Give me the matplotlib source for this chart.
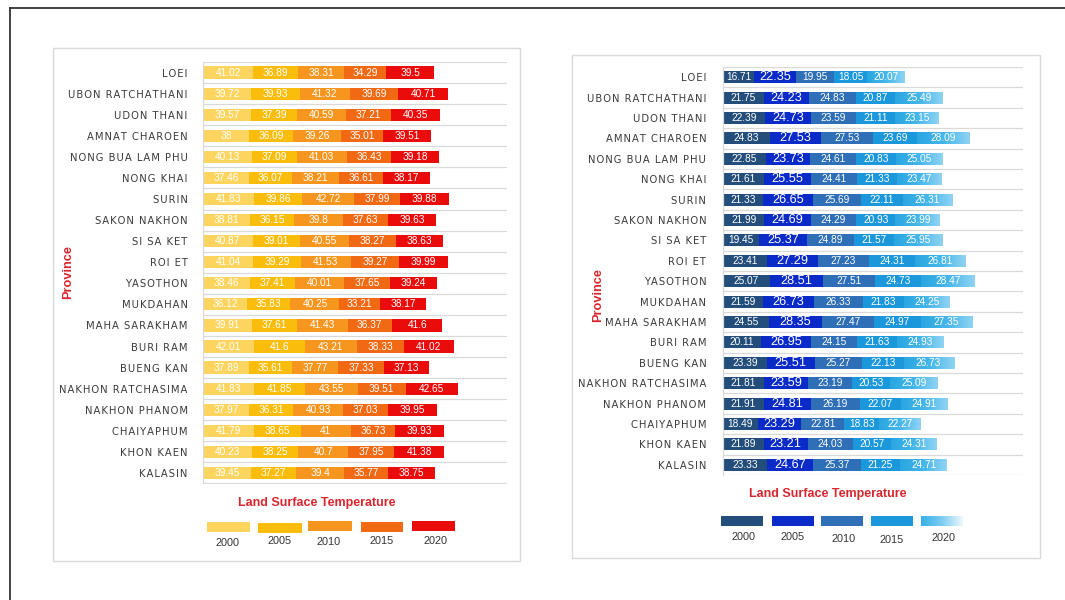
import numpy as np
import matplotlib
matplotlib.use("Agg")
import matplotlib.pyplot as plt
from matplotlib.patches import Rectangle
from matplotlib.lines import Line2D
from matplotlib.colors import LinearSegmentedColormap

# ---------------- data ----------------
provinces = ["LOEI", "UBON RATCHATHANI", "UDON THANI", "AMNAT CHAROEN",
             "NONG BUA LAM PHU", "NONG KHAI", "SURIN", "SAKON NAKHON",
             "SI SA KET", "ROI ET", "YASOTHON", "MUKDAHAN", "MAHA SARAKHAM",
             "BURI RAM", "BUENG KAN", "NAKHON RATCHASIMA", "NAKHON PHANOM",
             "CHAIYAPHUM", "KHON KAEN", "KALASIN"]
years = ["2000", "2005", "2010", "2015", "2020"]

# warm panel (left)
warm_2000 = [41.02, 39.72, 39.57, 38, 40.13, 37.46, 41.83, 38.81, 40.87, 41.04,
             38.46, 36.12, 39.91, 42.01, 37.89, 41.83, 37.97, 41.79, 40.23, 39.45]
warm_2005 = [36.89, 39.93, 37.39, 36.09, 37.09, 36.07, 39.86, 36.15, 39.01, 39.29,
             37.41, 35.83, 37.61, 41.6, 35.61, 41.85, 36.31, 38.65, 38.25, 37.27]
warm_2010 = [38.31, 41.32, 40.59, 39.26, 41.03, 38.21, 42.72, 39.8, 40.55, 41.53,
             40.01, 40.25, 41.43, 43.21, 37.77, 43.55, 40.93, 41, 40.7, 39.4]
warm_2015 = [34.29, 39.69, 37.21, 35.01, 36.43, 36.61, 37.99, 37.63, 38.27, 39.27,
             37.65, 33.21, 36.37, 38.33, 37.33, 39.51, 37.03, 36.73, 37.95, 35.77]
warm_2020 = [39.5, 40.71, 40.35, 39.51, 39.18, 38.17, 39.88, 39.63, 38.63, 39.99,
             39.24, 38.17, 41.6, 41.02, 37.13, 42.65, 39.95, 39.93, 41.38, 38.75]

# cool panel (right)
cool_2000 = [16.71, 21.75, 22.39, 24.83, 22.85, 21.61, 21.33, 21.99, 19.45, 23.41,
             25.07, 21.59, 24.55, 20.11, 23.39, 21.81, 21.91, 18.49, 21.89, 23.33]
cool_2005 = [22.35, 24.23, 24.73, 27.53, 23.73, 25.55, 26.65, 24.69, 25.37, 27.29,
             28.51, 26.73, 28.35, 26.95, 25.51, 23.59, 24.81, 23.29, 23.21, 24.67]
cool_2010 = [19.95, 24.83, 23.59, 27.53, 24.61, 24.41, 25.69, 24.29, 24.89, 27.23,
             27.51, 26.33, 27.47, 24.15, 25.27, 23.19, 26.19, 22.81, 24.03, 25.37]
cool_2015 = [18.05, 20.87, 21.11, 23.69, 20.83, 21.33, 22.11, 20.93, 21.57, 24.31,
             24.73, 21.83, 24.97, 21.63, 22.13, 20.53, 22.07, 18.83, 20.57, 21.25]
cool_2020 = [20.07, 25.49, 23.15, 28.09, 25.05, 23.47, 26.31, 23.99, 25.95, 26.81,
             28.47, 24.25, 27.35, 24.93, 26.73, 25.09, 24.91, 22.27, 24.31, 24.71]

warm_colors = ["#fdd55e", "#fbbd0b", "#f7961e", "#f26914", "#ea0b0b"]
cool_colors = ["#234e7c", "#0a2bc7", "#2e6fb7", "#1b97dc", "#33ade6"]

W, H = 1065, 600
fig = plt.figure(figsize=(W / 100, H / 100), dpi=100)
fig.patch.set_facecolor("white")

SANS = "Liberation Sans"


def fx(px):
    return px / W


def fy(py):
    return 1 - py / H


def spaced(name):
    # wide letter tracking for the province names
    return "\u200a".join(name)


# outer frame (top and left edges)
fig.add_artist(Line2D([fx(10), 1], [fy(8), fy(8)], transform=fig.transFigure,
                      color="#333333", lw=1.3, zorder=-2))
fig.add_artist(Line2D([fx(10), fx(10)], [fy(8), 0], transform=fig.transFigure,
                      color="#333333", lw=1.3, zorder=-2))

# panel cards
for (x0, y0, x1, y1) in [(53, 48, 520, 561), (572, 55, 1040, 558)]:
    fig.add_artist(Rectangle((fx(x0), fy(y1)), fx(x1) - fx(x0), fy(y0) - fy(y1),
                             transform=fig.transFigure, facecolor="white",
                             edgecolor="#d9d9d9", lw=1.0, zorder=-1))


def draw_panel(ax, series, colors, xmax, label_sizes, pad, gradient=None):
    n = len(provinces)
    y = np.arange(n)
    left = np.zeros(n)
    for vals, col, fs in zip(series, colors, label_sizes):
        vals = np.asarray(vals, dtype=float)
        bars = ax.barh(y, vals, left=left, height=0.58, color=col,
                       edgecolor="none", zorder=2)
        if gradient is not None and col == colors[-1]:
            for p in bars.patches:
                x0, w = p.get_x(), p.get_width()
                y0, h = p.get_y(), p.get_height()
                im = ax.imshow(np.linspace(0, 1, 64)[None, :], cmap=gradient,
                               extent=[x0, x0 + w, y0 + h, y0], aspect="auto",
                               interpolation="bilinear", zorder=2.1)
                im.set_clip_path(p)
        ax.bar_label(bars, fmt="{:g}", label_type="center", color="white",
                     fontsize=fs, family=SANS, zorder=4)
        left += vals
    ax.set_xlim(0, xmax)
    ax.set_ylim(n - 0.5, -0.5)
    ax.set_aspect("auto")
    for b in np.arange(n + 1) - 0.5:
        ax.axhline(b, color="#d9d9d9", lw=0.9, zorder=0)
    for s in ["top", "right", "bottom"]:
        ax.spines[s].set_visible(False)
    ax.spines["left"].set_color("#d9d9d9")
    ax.spines["left"].set_linewidth(0.9)
    ax.set_xticks([])
    ax.set_yticks(y)
    ax.set_yticklabels([spaced(p) for p in provinces], fontsize=7.2,
                       color="#3a3a3a")
    ax.tick_params(axis="y", length=0, pad=pad)
    ax.set_facecolor("none")


# left panel
ax1 = fig.add_axes([fx(203), fy(483.5), fx(507) - fx(203), fy(62) - fy(483.5)])
draw_panel(ax1, [warm_2000, warm_2005, warm_2010, warm_2015, warm_2020],
           warm_colors, 250, [7.3] * 5, pad=11)

# right panel
sky = LinearSegmentedColormap.from_list("sky", ["#2aa6e1", "#45b6ea", "#8fd3f3"])
ax2 = fig.add_axes([fx(723), fy(475), fx(1023) - fx(723), fy(67) - fy(475)])
draw_panel(ax2, [cool_2000, cool_2005, cool_2010, cool_2015, cool_2020],
           cool_colors, 160, [7.3, 9.2, 7.3, 7.3, 7.3], pad=12, gradient=sky)

title_red = "#d8262e"
# axis titles
fig.text(fx(68), fy(272), "Province", rotation=90, ha="center", va="center",
         color=title_red, fontsize=9.2, fontweight="bold", family=SANS)
fig.text(fx(598), fy(295), "Province", rotation=90, ha="center", va="center",
         color=title_red, fontsize=9.2, fontweight="bold", family=SANS)

# legends
fig.text(fx(317), fy(503), "Land Surface Temperature", ha="center", va="center",
         color=title_red, fontsize=9, fontweight="bold", family=SANS)
fig.text(fx(828), fy(494), "Land Surface Temperature", ha="center", va="center",
         color=title_red, fontsize=9, fontweight="bold", family=SANS)

warm_boxes = [(207, 250, 522), (258, 302, 523), (308, 352, 521), (361, 403, 522), (412, 455, 521)]
warm_texts = [(228, 543), (280, 541), (329, 542), (382, 541), (435, 541)]
for (x0, x1, yt), (tx, ty), col, yr in zip(warm_boxes, warm_texts, warm_colors, years):
    fig.add_artist(Rectangle((fx(x0), fy(yt + 10)), fx(x1) - fx(x0), fy(yt) - fy(yt + 10),
                             transform=fig.transFigure, facecolor=col, edgecolor="none"))
    fig.text(fx(tx), fy(ty), yr, ha="center", va="center", fontsize=7.8,
             color="#333333", family=SANS)

cool_boxes = [(721, 763, 516), (772, 814, 516), (821, 863, 516), (871, 913, 516), (921, 963, 516)]
cool_texts = [(743, 537), (793, 537), (844, 539), (892, 540), (944, 538)]
legend_fade = LinearSegmentedColormap.from_list("fade", ["#38b0e8", "#7ccdf2", "#eef8fd"])
for (x0, x1, yt), (tx, ty), col, yr in zip(cool_boxes, cool_texts, cool_colors, years):
    if yr == years[-1]:
        lax = fig.add_axes([fx(x0), fy(yt + 10), fx(x1) - fx(x0), fy(yt) - fy(yt + 10)])
        lax.imshow(np.linspace(0, 1, 64)[None, :], cmap=legend_fade, aspect="auto",
                   interpolation="bilinear")
        lax.axis("off")
    else:
        fig.add_artist(Rectangle((fx(x0), fy(yt + 10)), fx(x1) - fx(x0), fy(yt) - fy(yt + 10),
                                 transform=fig.transFigure, facecolor=col, edgecolor="none"))
    fig.text(fx(tx), fy(ty), yr, ha="center", va="center", fontsize=7.8,
             color="#333333", family=SANS)

fig.savefig("out.png", dpi=100, facecolor="white")
